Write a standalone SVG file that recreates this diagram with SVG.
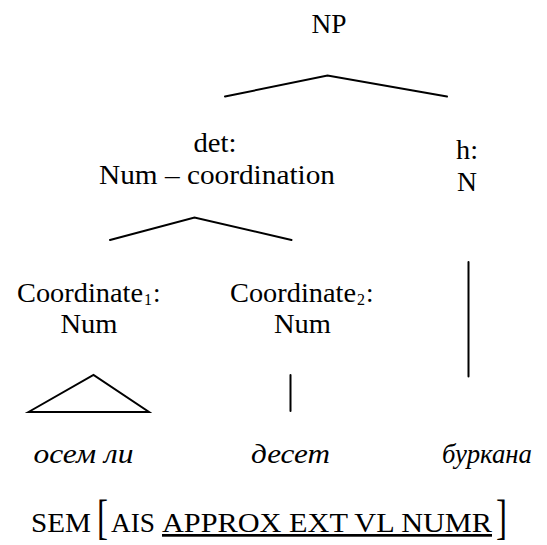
<svg xmlns="http://www.w3.org/2000/svg" width="547" height="545" viewBox="0 0 547 545">
  <style>
    text { font-family: "Liberation Serif", "Times New Roman", serif; font-size: 27px; fill: #000; }
    .c { text-anchor: middle; }
    .it { font-style: italic; }
    .sub { font-size: 16px; }
    .ul { text-decoration: underline; }
    .br { font-size: 33px; }
    .edge { stroke: #000; stroke-width: 2; fill: none; stroke-linecap: round; stroke-linejoin: miter; }
  </style>
  <rect width="547" height="545" fill="#fff"/>

  <!-- tree branches -->
  <g id="connectors">
    <polyline class="edge" points="225,96.5 327.5,75.5 447,96.5"/>
    <polyline class="edge" points="110,240 194.5,217.5 291.5,240"/>
    <polygon class="edge" points="28.5,412 93.5,375 149,412"/>
    <line class="edge" x1="290.5" y1="375" x2="290.5" y2="411"/>
    <line class="edge" x1="468.5" y1="262" x2="468.5" y2="376.5"/>
  </g>

  <g id="np">
    <text class="c" x="329" y="33" textLength="35" lengthAdjust="spacingAndGlyphs">NP</text>
  </g>
  <g id="det">
    <text class="c" x="215" y="152" textLength="43" lengthAdjust="spacingAndGlyphs">det:</text>
    <text class="c" x="217" y="184" textLength="236" lengthAdjust="spacingAndGlyphs">Num – coordination</text>
  </g>
  <g id="head">
    <text class="c" x="467" y="159" textLength="22" lengthAdjust="spacingAndGlyphs">h:</text>
    <text class="c" x="467" y="191" textLength="20" lengthAdjust="spacingAndGlyphs">N</text>
  </g>
  <g id="coord1">
    <text x="17" y="301.5" textLength="126" lengthAdjust="spacingAndGlyphs">Coordinate</text>
    <text class="sub" x="144" y="305">1</text>
    <text x="153" y="301.5">:</text>
    <text class="c" x="89" y="333" textLength="57" lengthAdjust="spacingAndGlyphs">Num</text>
  </g>
  <g id="coord2">
    <text x="230" y="301.5" textLength="126" lengthAdjust="spacingAndGlyphs">Coordinate</text>
    <text class="sub" x="357" y="305">2</text>
    <text x="366" y="301.5">:</text>
    <text class="c" x="302.5" y="333" textLength="57" lengthAdjust="spacingAndGlyphs">Num</text>
  </g>
  <g id="words">
    <text class="c it" x="83.5" y="463" textLength="100" lengthAdjust="spacingAndGlyphs">осем ли</text>
    <text class="c it" x="290.5" y="463" textLength="79" lengthAdjust="spacingAndGlyphs">десет</text>
    <text class="c it" x="487" y="463" textLength="90" lengthAdjust="spacingAndGlyphs">буркана</text>
  </g>
  <g id="sem">
    <text x="31" y="532" textLength="60" lengthAdjust="spacingAndGlyphs">SEM</text>
    <text class="br" x="97" y="0" transform="translate(0,533) scale(1,1.45)">[</text>
    <text x="111" y="532" textLength="44" lengthAdjust="spacingAndGlyphs">AIS</text>
    <text class="ul" x="162" y="532" textLength="330" lengthAdjust="spacingAndGlyphs">APPROX EXT VL NUMR</text>
    <text class="br" x="496" y="0" transform="translate(0,533) scale(1,1.45)">]</text>
  </g>
</svg>
